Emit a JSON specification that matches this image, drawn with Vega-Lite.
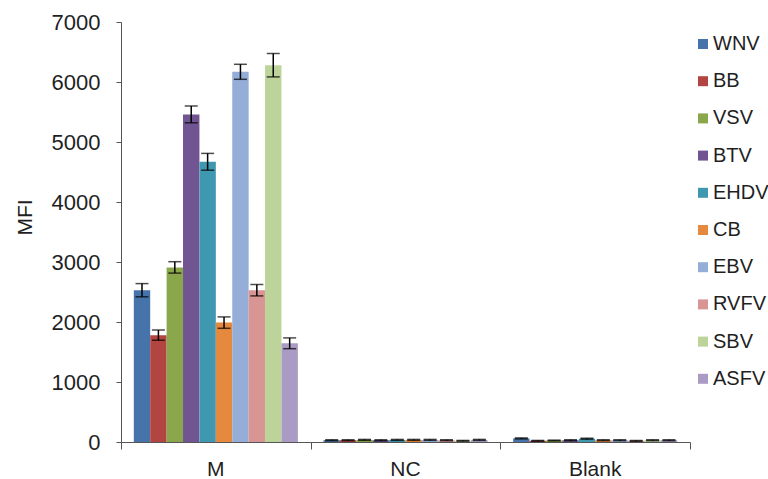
{
  "$schema": "https://vega.github.io/schema/vega-lite/v6.json",
  "width": 569,
  "height": 420,
  "autosize": {"type": "none"},
  "padding": {"left": 121, "top": 22, "right": 78, "bottom": 37},
  "background": "white",
  "config": {
    "view": {"stroke": null},
    "font": "Liberation Sans",
    "axis": {
      "labelFont": "Liberation Sans",
      "titleFont": "Liberation Sans",
      "labelColor": "#1f1f1f",
      "titleColor": "#1f1f1f",
      "domainColor": "#555555",
      "tickColor": "#555555",
      "grid": false
    },
    "legend": {"labelFont": "Liberation Sans"}
  },
  "layer": [
    {
      "data": {
        "values": [
          {"group": "M", "virus": "WNV", "mfi": 2530, "sd": 110},
          {"group": "M", "virus": "BB", "mfi": 1780, "sd": 85},
          {"group": "M", "virus": "VSV", "mfi": 2910, "sd": 95},
          {"group": "M", "virus": "BTV", "mfi": 5460, "sd": 140},
          {"group": "M", "virus": "EHDV", "mfi": 4670, "sd": 140},
          {"group": "M", "virus": "CB", "mfi": 1990, "sd": 95},
          {"group": "M", "virus": "EBV", "mfi": 6170, "sd": 125},
          {"group": "M", "virus": "RVFV", "mfi": 2530, "sd": 95},
          {"group": "M", "virus": "SBV", "mfi": 6280, "sd": 195},
          {"group": "M", "virus": "ASFV", "mfi": 1645, "sd": 90},
          {"group": "NC", "virus": "WNV", "mfi": 30, "sd": 8},
          {"group": "NC", "virus": "BB", "mfi": 30, "sd": 8},
          {"group": "NC", "virus": "VSV", "mfi": 35, "sd": 8},
          {"group": "NC", "virus": "BTV", "mfi": 30, "sd": 8},
          {"group": "NC", "virus": "EHDV", "mfi": 35, "sd": 8},
          {"group": "NC", "virus": "CB", "mfi": 35, "sd": 8},
          {"group": "NC", "virus": "EBV", "mfi": 35, "sd": 8},
          {"group": "NC", "virus": "RVFV", "mfi": 30, "sd": 8},
          {"group": "NC", "virus": "SBV", "mfi": 20, "sd": 6},
          {"group": "NC", "virus": "ASFV", "mfi": 35, "sd": 8},
          {"group": "Blank", "virus": "WNV", "mfi": 60, "sd": 8},
          {"group": "Blank", "virus": "BB", "mfi": 20, "sd": 6},
          {"group": "Blank", "virus": "VSV", "mfi": 25, "sd": 6},
          {"group": "Blank", "virus": "BTV", "mfi": 30, "sd": 8},
          {"group": "Blank", "virus": "EHDV", "mfi": 55, "sd": 8},
          {"group": "Blank", "virus": "CB", "mfi": 30, "sd": 8},
          {"group": "Blank", "virus": "EBV", "mfi": 30, "sd": 8},
          {"group": "Blank", "virus": "RVFV", "mfi": 20, "sd": 6},
          {"group": "Blank", "virus": "SBV", "mfi": 30, "sd": 8},
          {"group": "Blank", "virus": "ASFV", "mfi": 30, "sd": 8}
        ]
      },
      "encoding": {
        "x": {
          "field": "group",
          "type": "nominal",
          "sort": ["M", "NC", "Blank"],
          "scale": {"paddingInner": 0, "paddingOuter": 0},
          "axis": {
            "title": null,
            "domain": false,
            "ticks": false,
            "tickSize": 0,
            "labelAngle": 0,
            "labelFontSize": 21,
            "labelPadding": 16
          }
        },
        "xOffset": {
          "field": "virus",
          "type": "nominal",
          "sort": ["WNV", "BB", "VSV", "BTV", "EHDV", "CB", "EBV", "RVFV", "SBV", "ASFV"],
          "scale": {"paddingInner": 0, "paddingOuter": 0.78}
        }
      },
      "layer": [
        {
          "mark": {"type": "bar"},
          "encoding": {
            "y": {
              "field": "mfi",
              "type": "quantitative",
              "title": "MFI",
              "scale": {"domain": [0, 7000], "nice": false},
              "axis": {
                "title": "MFI",
                "format": "d",
                "values": [0, 1000, 2000, 3000, 4000, 5000, 6000, 7000],
                "labelFontSize": 22,
                "labelPadding": 16,
                "tickSize": 5,
                "titleFontSize": 21,
                "titleFontWeight": "normal",
                "titleX": -96,
                "titleY": 195,
                "titleBaseline": "middle"
              }
            },
            "color": {
              "field": "virus",
              "type": "nominal",
              "sort": ["WNV", "BB", "VSV", "BTV", "EHDV", "CB", "EBV", "RVFV", "SBV", "ASFV"],
              "scale": {
                "domain": ["WNV", "BB", "VSV", "BTV", "EHDV", "CB", "EBV", "RVFV", "SBV", "ASFV"],
                "range": ["#4674AA", "#B24542", "#8BA74C", "#705592", "#3F98AF", "#E5893F", "#95AED7", "#D99594", "#BCD39A", "#A99BC4"]
              },
              "legend": {
                "title": null,
                "orient": "none",
                "legendX": 572,
                "legendY": 12,
                "padding": 0,
                "symbolType": "square",
                "symbolSize": 100,
                "symbolStrokeWidth": 0,
                "labelFontSize": 20,
                "labelColor": "#1f1f1f",
                "labelOffset": 0,
                "rowPadding": 17.2
              }
            }
          }
        },
        {
          "mark": {"type": "errorbar", "ticks": {"size": 13, "thickness": 1.5, "color": "black"}, "color": "black", "thickness": 1.5},
          "encoding": {
            "y": {"field": "mfi", "type": "quantitative", "title": "MFI"},
            "yError": {"field": "sd"}
          }
        }
      ]
    },
    {
      "data": {"values": [{"edge": 0}, {"edge": 3}]},
      "mark": {"type": "point", "opacity": 0},
      "encoding": {
        "x": {
          "field": "edge",
          "type": "quantitative",
          "scale": {"domain": [0, 3], "nice": false, "zero": false},
          "axis": {
            "orient": "bottom",
            "title": null,
            "labels": false,
            "values": [0, 1, 2, 3],
            "tickSize": 7,
            "domainColor": "#555555",
            "tickColor": "#555555",
            "grid": false
          }
        }
      }
    }
  ],
  "resolve": {"scale": {"x": "independent"}}
}
